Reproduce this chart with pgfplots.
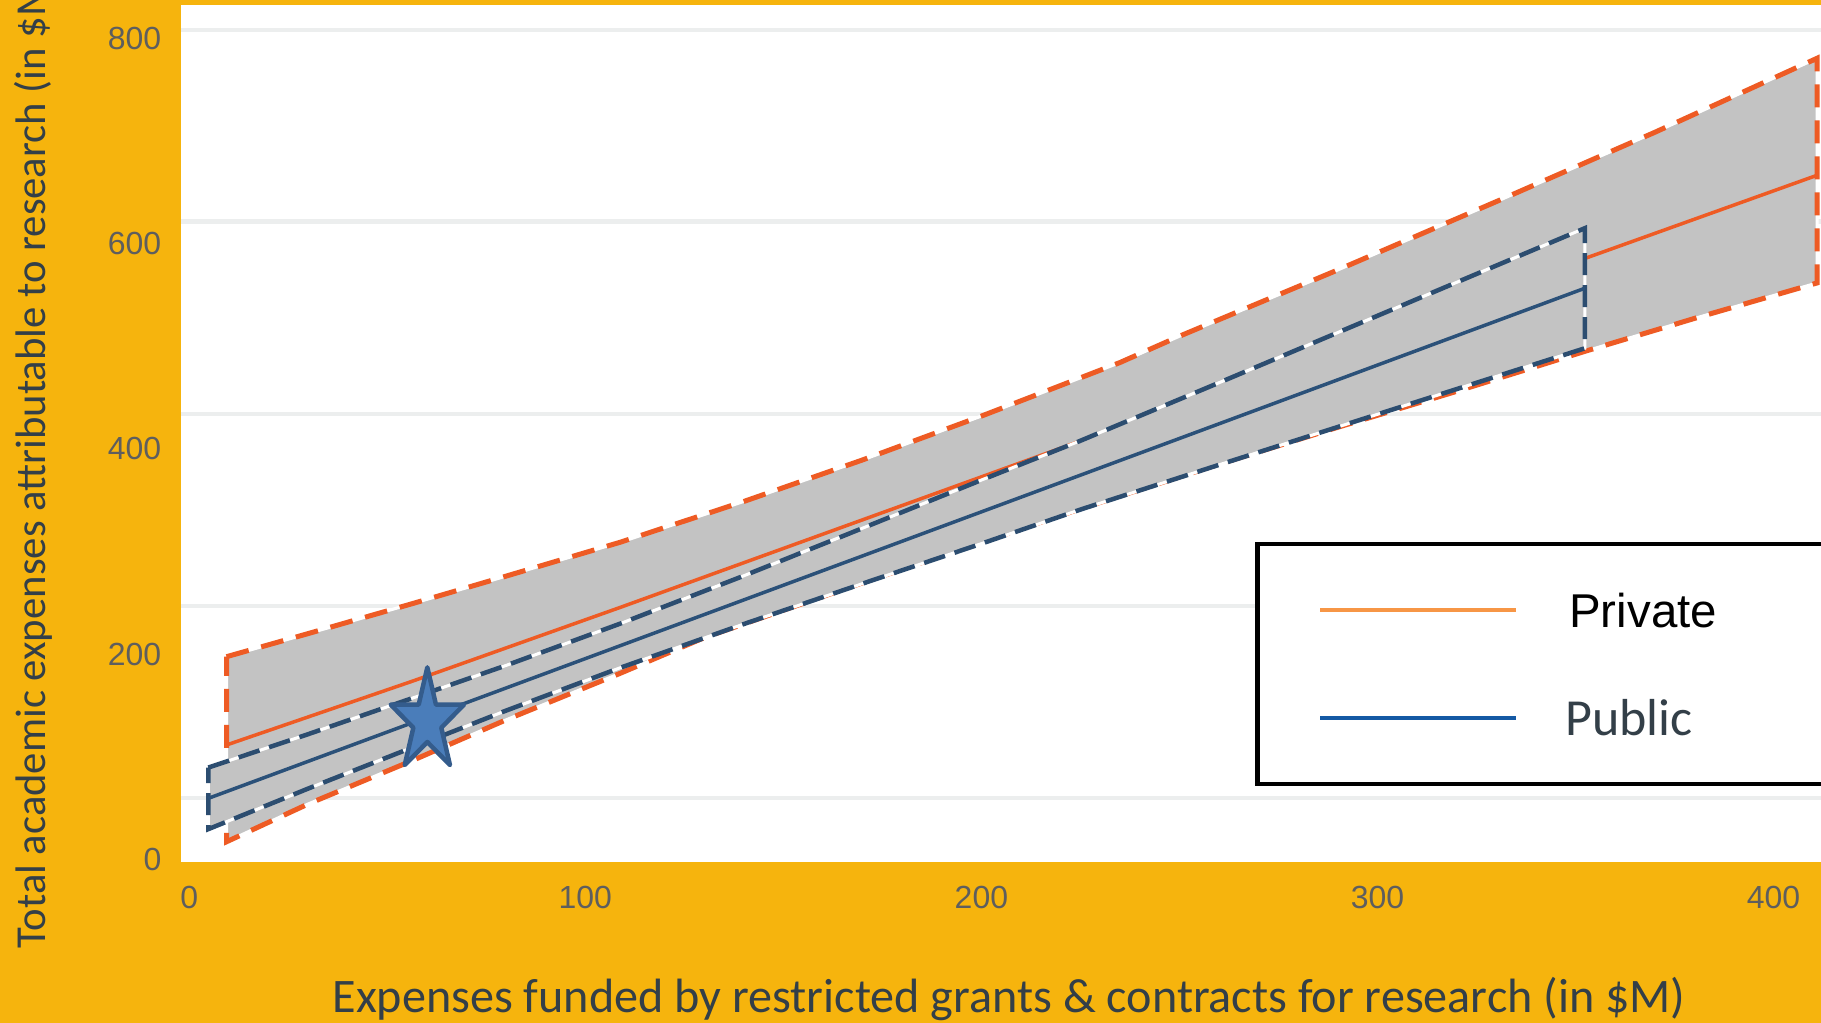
\documentclass[border=0pt]{standalone}
\usepackage{pgfplots}
\pgfplotsset{compat=1.18}
\usepackage{fontspec}
\setmainfont{Carlito}
\newfontfamily\arialf{Liberation Sans}
\newfontfamily\calib{Carlito}
\definecolor{bgorange}{HTML}{F6B40D}
\definecolor{bandgray}{HTML}{C3C3C3}
\definecolor{porange}{HTML}{EE5B24}
\definecolor{pblue}{HTML}{2C4D70}
\definecolor{pbluemean}{HTML}{2B5179}
\definecolor{legorange}{HTML}{F79646}
\definecolor{legblue}{HTML}{1459A4}
\definecolor{labelcol}{HTML}{333F48}
\definecolor{tickcol}{HTML}{5E5E5E}
\definecolor{gridgray}{HTML}{ECEEEE}
\definecolor{starfill}{HTML}{4A7DBA}
\definecolor{stardraw}{HTML}{345C8C}

\pgfdeclareplotmark{bigstar}{%
 \pgfpathmoveto{\pgfpoint{0mm}{5.4mm}}%
 \pgfpathlineto{\pgfpoint{-0.864mm}{1.669mm}}%
 \pgfpathlineto{\pgfpoint{-3.662mm}{1.669mm}}%
 \pgfpathlineto{\pgfpoint{-1.399mm}{-0.637mm}}%
 \pgfpathlineto{\pgfpoint{-2.263mm}{-4.369mm}}%
 \pgfpathlineto{\pgfpoint{0mm}{-2.063mm}}%
 \pgfpathlineto{\pgfpoint{2.263mm}{-4.369mm}}%
 \pgfpathlineto{\pgfpoint{1.399mm}{-0.637mm}}%
 \pgfpathlineto{\pgfpoint{3.662mm}{1.669mm}}%
 \pgfpathlineto{\pgfpoint{0.864mm}{1.669mm}}%
 \pgfpathclose
 \pgfusepathqfillstroke
}

\pgfplotstableread{
x y
9.4 197.5
30 220
56.6 249.5
80 276
108.8 309
140 348.7
170 389.2
200 431.9
218.2 459
235 484.1
250 509.7
290 574.3
331 642.5
370 708.3
411 780.5
411 561.6
380 527
352.4 495
320 456
290 421
260 385
224.9 341.5
170 269.5
130 216
108.8 181.3
80 136
56.6 96.8
30 54
9.4 17.2
9.4 197.5
}\privateband

\pgfplotstableread{
x y
9.4 111.5
56.6 174
108.8 245.5
205.6 380.5
352.4 585.5
411 666.5
}\privatemean

\pgfplotstableread{
x y
4.8 89.5
30 122
56.6 157.5
80 189
108.8 229.7
140 276.3
170 322.7
200 369.6
224.9 407.7
260 464.4
290 513.3
320 562.2
352.4 615
352.4 498
320 458.2
290 421.3
260 384.4
224.9 340.7
200 307.6
170 268.7
140 229.3
108.8 186.7
80 145
56.6 109.5
30 69
4.8 29.5
4.8 89.5
}\publicband

\pgfplotstableread{
x y
4.8 59.5
108.8 208.2
224.9 374.2
352.4 556.5
}\publicmean

\pgfplotstableread{
x y
60.1 134.5
}\starpoint

\begin{document}
\begin{tikzpicture}
\useasboundingbox (0,0) rectangle (182.1mm,102.3mm);
\clip (0,0) rectangle (182.1mm,102.3mm);
\fill[bgorange] (0,0) rectangle (182.1mm,102.3mm);
\begin{axis}[
  at={(18.1mm,16.1mm)}, anchor=south west,
  width=164mm, height=85.7mm, scale only axis,
  xmin=-2.1, xmax=412, ymin=-2.5, ymax=832.4,
  axis background/.style={fill=white},
  axis line style={draw=none},
  tick style={draw=none},
  major tick length=0pt,
  xtick={0,100,200,300,400}, ytick={0,200,400,600,800},
  /pgf/number format/assume math mode=true,
  xticklabel style={font=\arialf\fontsize{9.1}{10}\selectfont, text=tickcol, inner sep=0pt, anchor=north, yshift=-2.3mm},
  yticklabel style={font=\arialf\fontsize{9.1}{10}\selectfont, text=tickcol, inner sep=0pt, anchor=east, xshift=-1.9mm},
  extra y ticks={59.8,246.9,433.9,621.5,808.1},
  extra y tick labels={},
  extra y tick style={grid=major, major grid style={draw=gridgray, line width=0.45mm}},
  xlabel={Expenses funded by restricted grants \& contracts for research (in \$M)},
  xlabel style={at={(axis description cs:0.5049,-0.1758)}, anchor=base, inner sep=0pt, font=\calib\fontsize{13.7}{15}\selectfont, text=labelcol},
  ylabel={Total academic expenses attributable to research (in \$M)},
  ylabel style={at={(axis description cs:-0.0829,-0.1015)}, anchor=base west, inner sep=0pt, font=\calib\fontsize{12.15}{14}\selectfont, text=labelcol},
  legend style={at={(rel axis cs:0.6549,0.3735)}, anchor=north west, draw=black, line width=0.45mm, fill=white,
     inner xsep=6.1mm, inner ysep=4.9mm, row sep=7.4mm, column sep=5.1mm,
     nodes={inner sep=0pt, text height=3.4mm, text depth=0pt, text width=30mm}},
  legend cell align=left,
  legend image code/.code={\draw[#1] (0mm,0mm) -- (19.6mm,0mm);},
]
% private band
\addplot[forget plot, fill=bandgray, draw=white, line width=0.3mm] table[x=x,y=y] {\privateband};
\addplot[forget plot, draw=porange, line width=0.5mm, dash pattern=on 2.3mm off 1.3mm] table[x=x,y=y] {\privateband};
\addplot[forget plot, draw=porange, line width=0.35mm] table[x=x,y=y] {\privatemean};
% public band
\addplot[forget plot, fill=bandgray, draw=white, line width=0.3mm] table[x=x,y=y] {\publicband};
\addplot[forget plot, draw=pblue, line width=0.45mm, dash pattern=on 2.2mm off 1mm] table[x=x,y=y] {\publicband};
\addplot[forget plot, draw=pbluemean, line width=0.35mm] table[x=x,y=y] {\publicmean};
% star
\addplot[forget plot, only marks, mark=bigstar, mark options={fill=starfill, draw=stardraw, line width=0.45mm, line join=round}] table[x=x,y=y] {\starpoint};
% legend
\addlegendimage{legorange, line width=0.33mm}
\addlegendentry{\arialf\fontsize{13.5}{14}\selectfont\color{black}Private}
\addlegendimage{legblue, line width=0.4mm}
\addlegendentry{\hspace*{-0.4mm}\calib\fontsize{14.8}{15}\selectfont\color{labelcol}Public}
\end{axis}
\end{tikzpicture}
\end{document}
